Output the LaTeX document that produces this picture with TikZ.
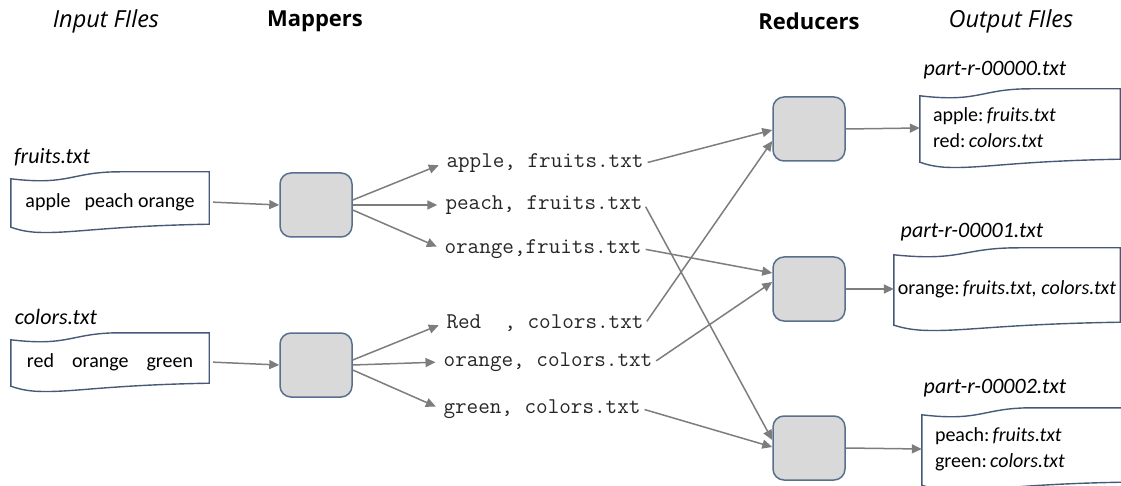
\documentclass[tikz,border=0pt]{standalone}
\usepackage{fontspec}
\setmainfont{Carlito}
\newfontfamily\hdrfont{Open Sans}
\usetikzlibrary{arrows.meta,calc}
\definecolor{boxedge}{RGB}{88,112,142}
\definecolor{boxfill}{RGB}{217,217,217}
\definecolor{conncol}{RGB}{125,125,125}
\definecolor{docedge}{RGB}{70,90,120}
\tikzset{
 procbox/.style={draw=boxedge, fill=boxfill, line width=1.5pt, rounded corners=11pt, minimum width=72pt, minimum height=64pt, inner sep=0pt},
 conn/.style={draw=conncol, line width=1.5pt, -{Triangle[length=10pt,width=9pt]}},
 kv/.style={font=\ttfamily\fontsize{22.5}{24}\selectfont, text=black!85, inner sep=2pt},
 doc/.style={inner sep=0pt, font=\fontsize{20}{26}\selectfont},
 doclabel/.style={font=\itshape\fontsize{22}{24}\selectfont, inner sep=0pt},
 hdrb/.style={font=\hdrfont\bfseries\fontsize{22}{24}\selectfont, inner sep=0pt},
 hdri/.style={font=\hdrfont\itshape\fontsize{23.5}{26}\selectfont, inner sep=0pt},
 docline/.style={draw=docedge, line width=1.4pt},
}
\newcommand{\wavedoc}[1]{%
\path[docline] let \p1=(#1.north west), \p2=(#1.south east), \n1={\x2-\x1} in
 (\x1,\y1-7pt) .. controls (\x1+0.3*\n1,\y1-14pt) and (\x1+0.3*\n1,\y1) .. (\x1+0.55*\n1,\y1)
 -- (\x2,\y1) -- (\x2,\y2+8pt)
 .. controls (\x1+0.45*\n1,\y2+6pt) and (\x1+0.3*\n1,\y2-2pt) .. (\x1+0.12*\n1,\y2)
 .. controls (\x1+0.06*\n1,\y2+1pt) and (\x1+0.03*\n1,\y2+3pt) .. (\x1,\y2+5pt) -- cycle;}
\begin{document}
\begin{tikzpicture}[x=1pt,y=-1pt]
\useasboundingbox (0,0) rectangle (1121,486);
\clip (0,0) rectangle (1121,486);
% headers
\node[hdri] (hin) at (106,21) {Input FIles};
\node[hdrb] (hmap) at (315,21) {Mappers};
\node[hdrb] (hred) at (809,21) {Reducers};
\node[hdri] (hout) at (1011,21) {Output FIles};
% input documents
\node[doclabel] (lfr) at (52,157) {fruits.txt};
\node[doclabel] (lco) at (56,317) {colors.txt};
\node[doc, minimum width=198pt, minimum height=60pt] (fruits) at (110,202) {apple\hspace{14pt}peach orange};
\node[doc, minimum width=198pt, minimum height=58pt] (colors) at (110,362) {red\hspace{18pt}orange\hspace{18pt}green};
\wavedoc{fruits}
\wavedoc{colors}
% mappers
\node[procbox] (M1) at (316,205) {};
\node[procbox] (M2) at (316,365) {};
% reducers
\node[procbox] (R1) at (809,129) {};
\node[procbox] (R2) at (809,289) {};
\node[procbox] (R3) at (809,448) {};
% key/value pairs
\node[kv] (kapple) at (545,163) {apple, fruits.txt};
\node[kv] (kpeach) at (544,205) {peach, fruits.txt};
\node[kv] (korf) at (543,249) {orange,fruits.txt};
\node[kv] (kred) at (545,323) {Red\ \ , colors.txt};
\node[kv] (korc) at (548,362) {orange, colors.txt};
\node[kv] (kgreen) at (542,409) {green, colors.txt};
% output documents
\node[doclabel] (l0) at (995,70) {part-r-00000.txt};
\node[doclabel] (l1) at (972,232) {part-r-00001.txt};
\node[doclabel] (l2) at (995,388) {part-r-00002.txt};
\node[doc, minimum width=200pt, minimum height=78pt, text width=174pt, inner xsep=13pt, align=left] (o1) at (1020,128) {apple:\,\textit{fruits.txt}\\red:\,\textit{colors.txt}};
\node[doc, minimum width=226pt, minimum height=82pt, align=center] (o2) at (1007,289) {orange:\,\textit{fruits.txt, colors.txt}};
\node[doc, minimum width=200pt, minimum height=82pt, text width=174pt, inner xsep=13pt, align=left] (o3) at (1022,449) {peach:\,\textit{fruits.txt}\\green:\,\textit{colors.txt}};
\wavedoc{o1}
\wavedoc{o2}
\wavedoc{o3}
% connectors
\draw[conn, shorten <=4pt] (fruits.east) -- (M1.west);
\draw[conn, shorten <=4pt] (colors.east) -- (M2.west);
\draw[conn, shorten >=6pt] ($(M1.east)+(0,-5)$) -- (kapple.west);
\draw[conn, shorten >=6pt] (M1.east) -- (kpeach.west);
\draw[conn, shorten >=6pt] ($(M1.east)+(0,5)$) -- (korf.west);
\draw[conn, shorten >=6pt] ($(M2.east)+(0,-5)$) -- (kred.west);
\draw[conn, shorten >=6pt] (M2.east) -- (korc.west);
\draw[conn, shorten >=6pt] ($(M2.east)+(0,5)$) -- (kgreen.west);
\draw[conn, shorten <=2pt] (kapple.east) -- ($(R1.west)+(0,1)$);
\draw[conn, shorten <=2pt] (kred.east) -- ($(R1.west)+(0,12)$);
\draw[conn, shorten <=2pt] (korf.east) -- ($(R2.west)+(0,-16)$);
\draw[conn, shorten <=2pt] (korc.east) -- ($(R2.west)+(0,-7)$);
\draw[conn, shorten <=2pt] (kpeach.east) -- ($(R3.west)+(0,-8)$);
\draw[conn, shorten <=2pt] (kgreen.east) -- ($(R3.west)+(0,-1)$);
\draw[conn] (R1.east) -- (o1.west);
\draw[conn] (R2.east) -- (o2.west);
\draw[conn] (R3.east) -- (o3.west);
\end{tikzpicture}
\end{document}
